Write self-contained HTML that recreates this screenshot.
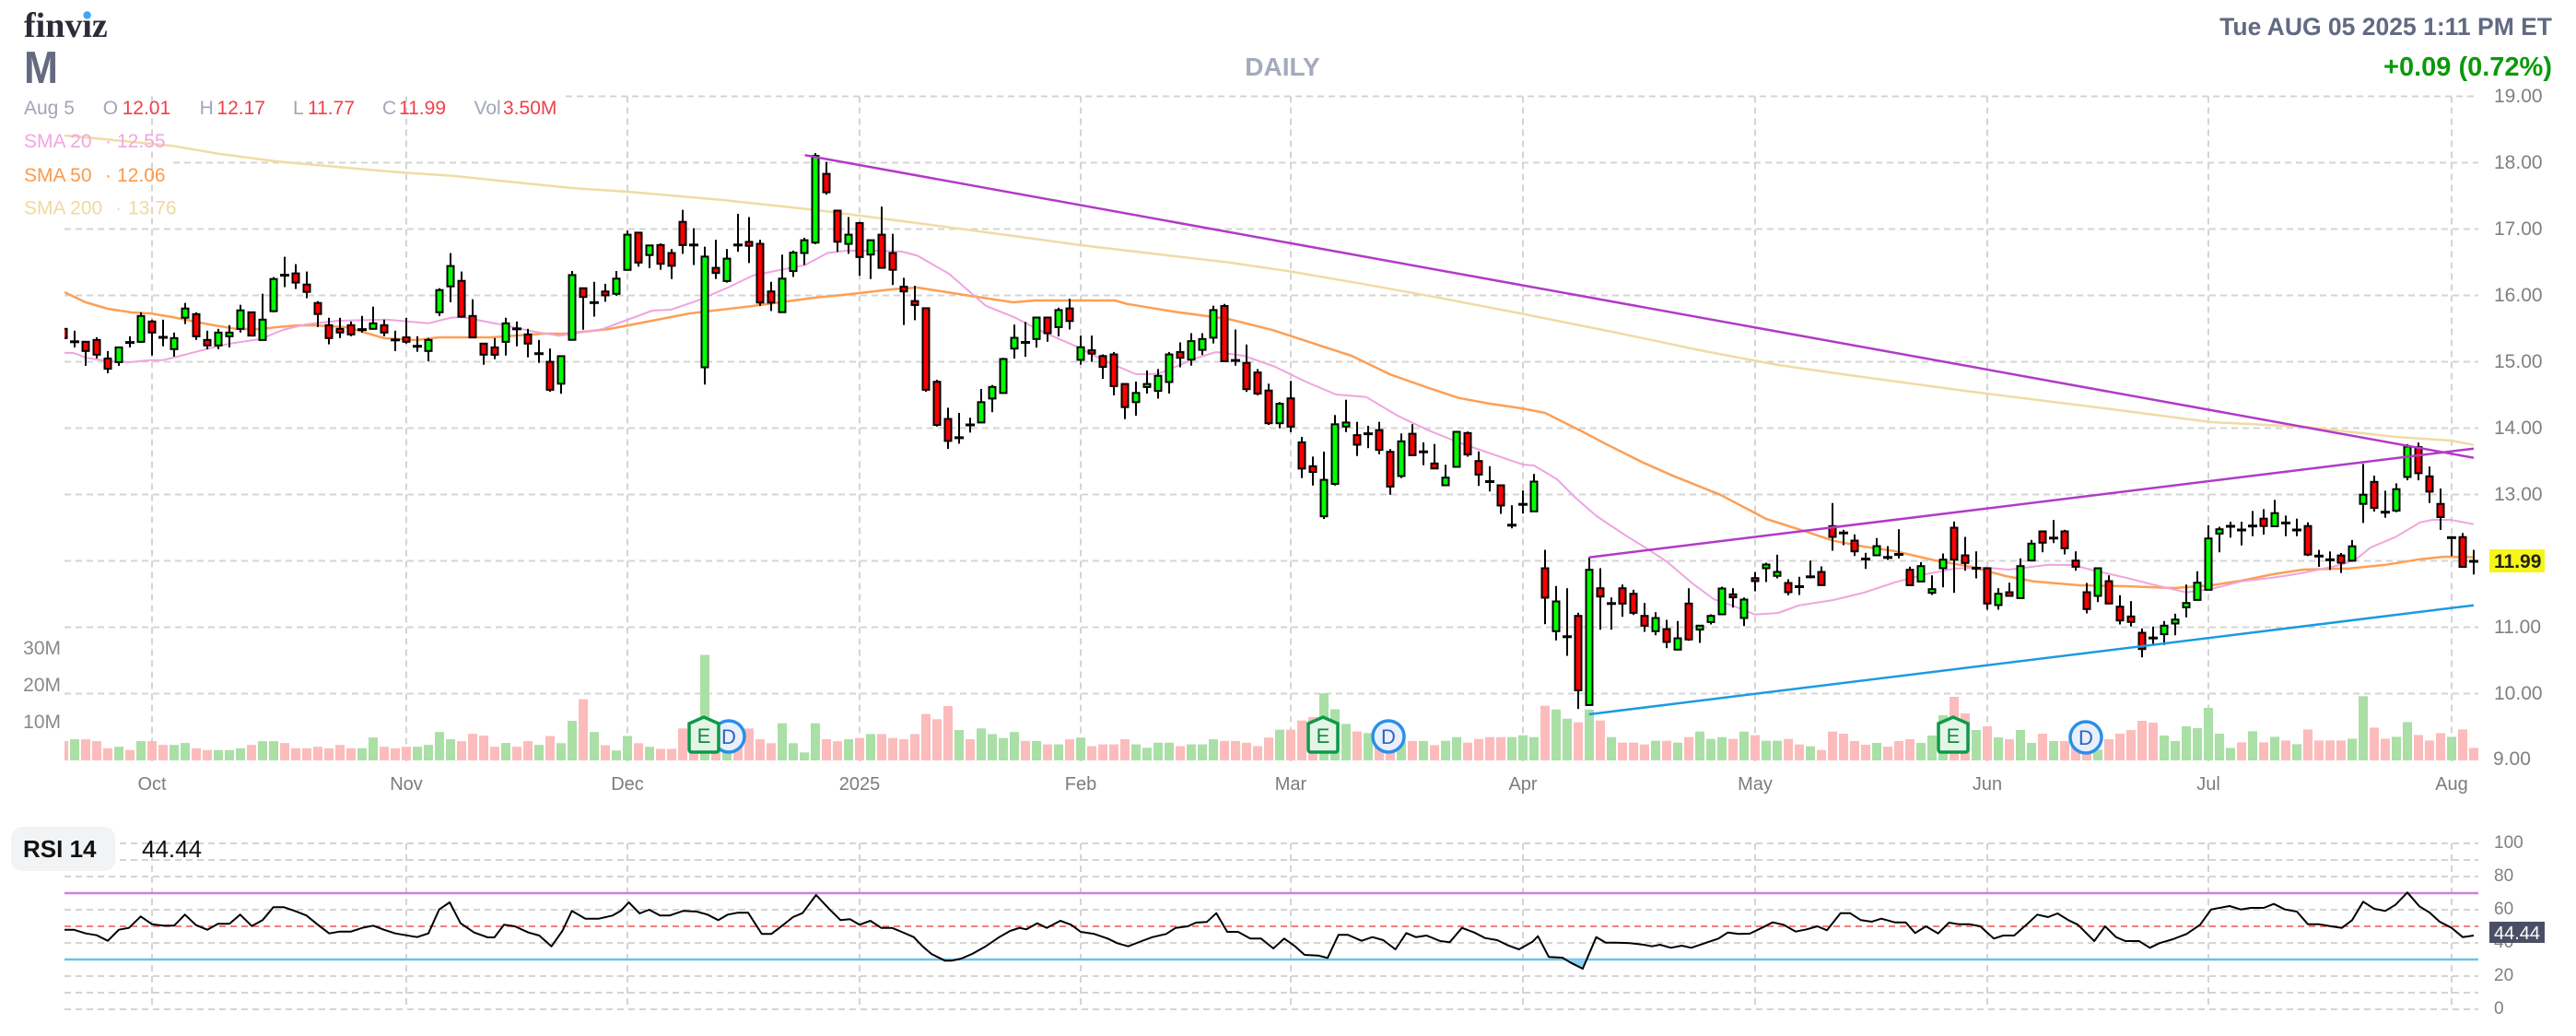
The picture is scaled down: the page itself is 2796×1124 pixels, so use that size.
<!DOCTYPE html>
<html><head><meta charset="utf-8">
<style>
html,body{margin:0;padding:0;background:#fff;}
svg{display:block;}
</style></head>
<body>
<svg id="c" width="2796" height="1124" viewBox="0 0 2796 1124" xmlns="http://www.w3.org/2000/svg" font-family="Liberation Sans, Arial, sans-serif">
<defs>
<clipPath id="pc"><rect x="70" y="90" width="2620" height="740"/></clipPath>
<clipPath id="rc"><rect x="70" y="900" width="2620" height="200"/></clipPath>
</defs>
<rect x="0" y="0" width="2796" height="1124" fill="#fff"/>
<g id="grid"></g>
<g id="vol" clip-path="url(#pc)"></g>
<g id="sma" clip-path="url(#pc)" fill="none"></g>
<g id="cdl" clip-path="url(#pc)"></g>
<g id="trend" clip-path="url(#pc)" fill="none"></g>
<g id="rsi" clip-path="url(#rc)"></g>

<!-- markers -->
<g>
<circle cx="791" cy="799" r="17" fill="#e8f0fb" stroke="#2b8fe8" stroke-width="3.5"/>
<text x="791" y="807" font-size="22" fill="#2f62c2" text-anchor="middle">D</text>
<path d="M748,785 L764,778 L780,785 L780,813 Q780,816 777,816 L751,816 Q748,816 748,813 Z" fill="#e4f5e8" stroke="#0e9a48" stroke-width="3.5"/>
<text x="764" y="806" font-size="22" fill="#0e8a3e" text-anchor="middle">E</text>

<circle cx="1507" cy="799" r="17" fill="#e8f0fb" stroke="#2b8fe8" stroke-width="3.5"/>
<text x="1507" y="807" font-size="22" fill="#2f62c2" text-anchor="middle">D</text>
<path d="M1420,785 L1436,778 L1452,785 L1452,813 Q1452,816 1449,816 L1423,816 Q1420,816 1420,813 Z" fill="#e4f5e8" stroke="#0e9a48" stroke-width="3.5"/>
<text x="1436" y="806" font-size="22" fill="#0e8a3e" text-anchor="middle">E</text>

<circle cx="2264" cy="800" r="17" fill="#e8f0fb" stroke="#2b8fe8" stroke-width="3.5"/>
<text x="2264" y="808" font-size="22" fill="#2f62c2" text-anchor="middle">D</text>
<path d="M2104,785 L2120,778 L2136,785 L2136,813 Q2136,816 2133,816 L2107,816 Q2104,816 2104,813 Z" fill="#e4f5e8" stroke="#0e9a48" stroke-width="3.5"/>
<text x="2120" y="806" font-size="22" fill="#0e8a3e" text-anchor="middle">E</text>
</g>

<!-- header -->
<text x="26" y="40" font-family="Liberation Serif, serif" font-weight="bold" font-size="38" fill="#2b2c38">finviz</text>
<circle cx="94.6" cy="16.5" r="4.2" fill="#41a5f5"/>
<text x="26" y="90" font-weight="bold" font-size="49" fill="#646a80" textLength="37" lengthAdjust="spacingAndGlyphs">M</text>
<text x="1392" y="82" font-weight="bold" font-size="28" fill="#a4aabd" text-anchor="middle">DAILY</text>
<text x="2770" y="38" font-weight="bold" font-size="26.5" fill="#626982" text-anchor="end">Tue AUG 05 2025 1:11 PM ET</text>
<text x="2770" y="82" font-weight="bold" font-size="29" fill="#0b990b" text-anchor="end">+0.09 (0.72%)</text>

<g font-size="21">
<text x="26" y="124" fill="#a1a6b8">Aug 5</text>
<text x="111.7" y="124" fill="#a1a6b8">O</text><text x="132.6" y="124" fill="#f0404a">12.01</text>
<text x="216.6" y="124" fill="#a1a6b8">H</text><text x="235.4" y="124" fill="#f0404a">12.17</text>
<text x="318" y="124" fill="#a1a6b8">L</text><text x="334" y="124" fill="#f0404a">11.77</text>
<text x="415" y="124" fill="#a1a6b8">C</text><text x="433" y="124" fill="#f0404a">11.99</text>
<text x="514.5" y="124" fill="#a1a6b8">Vol</text><text x="546" y="124" fill="#f0404a">3.50M</text>

<text x="26" y="160" fill="#f2a6e0">SMA 20</text><text x="114" y="160" fill="#f2a6e0">·</text><text x="127" y="160" fill="#f2a6e0">12.55</text>
<text x="26" y="197" fill="#fb9a4b">SMA 50</text><text x="114" y="197" fill="#fb9a4b">·</text><text x="127" y="197" fill="#fb9a4b">12.06</text>
<text x="26" y="232.5" fill="#efd9a0">SMA 200</text><text x="125" y="232.5" fill="#efd9a0">·</text><text x="139" y="232.5" fill="#efd9a0">13.76</text>
</g>

<!-- price axis -->
<g font-size="21" fill="#808080">
<text x="2707" y="111">19.00</text>
<text x="2707" y="183">18.00</text>
<text x="2707" y="255">17.00</text>
<text x="2707" y="327">16.00</text>
<text x="2707" y="399">15.00</text>
<text x="2707" y="471">14.00</text>
<text x="2707" y="543">13.00</text>
<text x="2707" y="687">11.00</text>
<text x="2707" y="759">10.00</text>
<text x="2706" y="830">9.00</text>
</g>
<rect x="2702" y="596" width="60" height="25" fill="#f5f518"/>
<text x="2707" y="616" font-size="21" font-weight="bold" fill="#222">11.99</text>

<!-- volume axis -->
<g font-size="21" fill="#8a8a8a" text-anchor="end">
<text x="66" y="710">30M</text>
<text x="66" y="750">20M</text>
<text x="66" y="790">10M</text>
</g>

<!-- month labels -->
<g font-size="20" fill="#7c7c7c" text-anchor="middle">
<text x="165" y="857">Oct</text>
<text x="441" y="857">Nov</text>
<text x="681" y="857">Dec</text>
<text x="933" y="857">2025</text>
<text x="1173" y="857">Feb</text>
<text x="1401" y="857">Mar</text>
<text x="1653" y="857">Apr</text>
<text x="1905" y="857">May</text>
<text x="2157" y="857">Jun</text>
<text x="2397" y="857">Jul</text>
<text x="2661" y="857">Aug</text>
</g>

<!-- RSI labels -->
<rect x="12" y="897" width="113" height="48" rx="12" fill="#f2f3f5"/>
<text x="25" y="930" font-size="26" font-weight="bold" fill="#111">RSI 14</text>
<text x="154" y="930" font-size="26" fill="#111">44.44</text>
<g font-size="19" fill="#808080">
<text x="2707" y="920">100</text>
<text x="2707" y="956">80</text>
<text x="2707" y="992">60</text>
<text x="2707" y="1028">40</text>
<text x="2707" y="1064">20</text>
<text x="2707" y="1100">0</text>
</g>
<rect x="2702" y="1000" width="60" height="23" fill="#4a5064"/>
<text x="2707" y="1019" font-size="20" fill="#fff">44.44</text>
</svg>

<script>
(function(){
var Y=function(p){return 104.5+(19-p)*72;};
var X=function(g){return 69+12*g;};
var segs=[
{g0:0,zy0:120,p0:17,s:179.5,vb:1555,
c:"r 390 415 388 415|d 425 395 440|r 425 450 425 490|r 420 460 413 470|r 470 498 450 510|g 440 480 440 490|d 427 410 440|g 355 425 345 425|r 370 400 365 462|d 413 365 437|g 415 445 400 465|g 335 360 320 377|r 350 410 345 420|r 420 435 395 445|g 400 435 390 445|g 400 410 380 440|g 340 390 325 400|r 345 408 345 410|g 365 420 295 420|g 255 342 250 345|d 245 195 277|r 240 265 215 282|r 270 290 235 307|r 320 350 315 385|r 380 415 360 432|r 390 400 360 415|r 380 405 370 410|d 392 355 400|g 375 390 330 392|r 380 400 365 410|d 420 395 450|r 413 425 360 430|d 437 410 452|g 420 450 415 478|g 285 345 280 355|g 220 275 185 318|r 260 357 235 360|r 355 413 310 413|r 430 460 430 487|r 440 460 415 472|g 375 425 360 462|d 390 370 437|r 405 430 390 467|d 457 420 482",
v:"1503p 1498g 1498p 1503p 1522p 1518g 1527p 1503g 1503p 1513p 1513g 1508g 1522p 1527p 1527g 1527g 1522g 1513p 1503g 1503g 1508p 1522p 1522p 1518p 1522p 1513p 1522p 1522g 1493g 1518p 1522p 1518p 1518g 1513g 1478g 1498g 1503p 1483p 1488p 1518p 1508g 1518p 1503p 1513g"},
{g0:44,zy0:62,p0:18,s:166,vb:1556,
c:"r 560 630 527 635|g 546 615 546 640|g 343 505 333 505|r 376 398 376 480|d 412 360 447|r 384 394 365 410|g 352 390 333 395|g 242 330 232 332|r 237 312 237 322|g 269 293 269 326|r 268 315 264 330|r 288 320 278 353|r 210 268 180 290|d 268 226 318|g 297 574 272 617|r 325 338 255 353|g 302 358 278 362|d 268 190 285|r 260 270 198 313|r 265 412 255 420|r 384 412 360 433|g 352 436 292 436|g 287 333 282 348|g 256 288 250 318|g 45 262 38 266|r 90 136 60 142|r 182 260 182 285|g 242 265 198 290|r 213 298 210 345|g 256 292 256 353|r 242 325 172 325|r 288 330 240 368|r 372 384 350 468|r 408 418 370 456|r 426 630 426 635|r 610 718 605 722|r 703 758 675 778|d 750 688 765|d 718 700 737|g 661 712 628 712|g 623 652 618 686|g 553 638 550 638|g 500 527 467 552",
v:"1495p 1513g 1457g 1403p 1485g 1518p 1531g 1495g 1513p 1522g 1527p 1527p 1476p 1500p 1292g 1500p 1500g 1500p 1476p 1503p 1513p 1463g 1513g 1536g 1463g 1503p 1508p 1503g 1500p 1490g 1490p 1500p 1503p 1490p 1440p 1453p 1420p 1480g 1503p 1476g 1490g 1500g 1485g"},
{g0:87,zy0:192,p0:16,s:194.7,vb:1555,
c:"d 330 270 372|g 257 320 257 345|r 257 303 257 328|g 235 285 228 312|r 230 267 202 292|g 344 381 310 395|r 353 363 310 387|r 370 402 365 437|r 365 458 358 485|r 452 520 452 555|g 478 505 445 545|g 452 461 412 480|g 428 472 408 495|g 365 446 358 480|r 358 375 330 403|g 326 380 303 398|g 320 352 303 367|g 235 316 222 333|r 223 385 217 385|d 383 292 398|r 390 467 336 475|r 418 480 408 485|r 471 567 451 572|g 510 567 505 582|r 494 577 443 593|r 623 700 607 728|r 693 710 665 750|g 733 840 650 848|g 570 745 543 750|g 565 577 498 593|r 602 630 563 663|d 598 575 640|r 587 645 563 658|r 651 753 643 777|g 620 722 597 728|r 598 661 570 661|d 651 623 690|r 685 700 628 700",
v:"1498p 1498g 1508p 1508g 1493p 1488g 1513p 1508p 1508p 1493p 1508g 1518g 1503g 1503g 1513p 1508g 1508g 1493g 1498p 1498p 1503p 1513p 1488p 1465g 1465p 1438p 1428p 1358g 1405g 1448g 1470p 1475g 1490p 1500p 1500g 1498p 1498g 1510p"},
{g0:125,zy0:194,p0:14,s:216,vb:1276,
c:"g 355 380 313 380|g 206 320 206 322|r 210 280 205 287|r 301 345 270 382|d 368 318 400|r 380 446 380 473|d 510 445 520|d 442 397 472|g 368 465 343 465|r 650 746 590 832|g 758 855 708 885|d 873 715 935|r 805 1047 795 1108|g 655 1095 615 1095|r 715 742 650 850|d 765 745 850|r 715 765 703 808|r 733 795 720 802|r 805 837 763 857|g 812 855 793 868|r 848 890 818 910|g 878 915 822 915|r 765 882 715 886|g 837 850 837 893|g 805 825 800 833|g 716 800 710 800|r 735 745 715 778|g 752 812 745 838|r 682 692 662 725|g 638 650 632 695|g 662 675 606 683|r 698 728 686 738|d 710 678 737|d 678 625 683|r 662 705 644 705|r 513 548 438 593",
v:"1212g 1200g 1218p 1206p 1200p 1200p 1200g 1194g 1200g 1098p 1110g 1140g 1152p 1110g 1146p 1200g 1218p 1218p 1224p 1212g 1212p 1218g 1200p 1182g 1206g 1200g 1206p 1182g 1194p 1212g 1212g 1206p 1224p 1230g 1242p 1182p"},
{g0:161,zy0:170,p0:13,s:216,vb:1035,
c:"d 295 285 335|r 320 355 300 370|d 380 360 412|g 338 368 312 368|d 375 338 383|d 365 283 378|r 415 465 405 465|g 403 453 390 453|g 478 490 433 497|g 382 410 362 472|r 278 382 258 490|r 368 393 308 418|d 410 355 443|r 410 525 410 545|g 493 530 475 545|r 488 500 457 500|g 403 507 378 507|g 330 385 318 388|r 290 327 290 358|d 312 253 328|r 290 345 285 365|r 385 405 355 418|r 488 543 458 557|g 410 500 410 520|r 452 525 433 525|r 535 580 498 593|r 567 585 517 600|r 620 673 606 700|d 637 600 657|g 597 625 582 660|g 577 590 558 628|g 523 537 463 570|g 457 513 420 513|g 313 480 270 480|g 283 297 275 358",
v:"948p 972p 984p 978g 990p 972p 966p 978g 954g 888g 828p 882p 936g 924p 960g 966p 936g 978g 948p 972g 972p 990p 990p 1000g 966p 948p 936p 906p 912p 954g 972g 924g 930g 864g 948g"},
{g0:196,zy0:193,p0:14,s:216.3,vb:1277,
c:"d 513 498 550|d 525 498 575|d 512 463 545|r 488 512 457 540|g 470 513 427 513|d 502 478 545|d 525 488 545|r 512 605 500 610|d 610 590 645|d 622 595 655|r 608 632 600 665|g 578 625 558 628|g 410 440 310 502|r 368 453 348 465|d 467 397 485|g 392 462 373 467|g 253 352 245 363|r 255 340 240 363|r 350 400 318 437|r 440 483 390 525|d 550 545 610|r 548 645 535 645|d 627 590 670",
v:"1236g 1218p 1182g 1218p 1200g 1212p 1224g 1176p 1212p 1212p 1212p 1206g 1068g 1170p 1206p 1200g 1152g 1194p 1212p 1188p 1200g 1176p 1236p"}
];
var vh="",ch="";
segs.forEach(function(S){
  var P=function(z){return S.p0-(z-S.zy0)/S.s;};
  var cs=S.c.split("|");
  cs.forEach(function(str,i){
    var a=str.split(" "),g=S.g0+i,x=X(g);
    if(a[0]==="d"){
      var yl=Y(P(+a[1])),yh=Y(P(+a[2])),yw=Y(P(+a[3]));
      ch+='<line x1="'+x+'" y1="'+yh.toFixed(1)+'" x2="'+x+'" y2="'+yw.toFixed(1)+'" stroke="#000" stroke-width="2"/>';
      ch+='<line x1="'+(x-5)+'" y1="'+yl.toFixed(1)+'" x2="'+(x+5)+'" y2="'+yl.toFixed(1)+'" stroke="#000" stroke-width="3"/>';
    }else{
      var yt=Y(P(+a[1])),yb=Y(P(+a[2])),yh2=Y(P(+a[3])),yl2=Y(P(+a[4]));
      var col=a[0]==="g"?"#00ff00":"#ff0000";
      ch+='<line x1="'+x+'" y1="'+yh2.toFixed(1)+'" x2="'+x+'" y2="'+yl2.toFixed(1)+'" stroke="#000" stroke-width="2"/>';
      ch+='<rect x="'+(x-3.5)+'" y="'+yt.toFixed(1)+'" width="7" height="'+Math.max(yb-yt,1).toFixed(1)+'" fill="'+col+'" stroke="#000" stroke-width="2"/>';
    }
  });
  var vs=S.v.trim().split(/\s+/);
  vs.forEach(function(s,i){
    var g=S.g0+i,x=X(g),top=parseFloat(s),c=s.charAt(s.length-1);
    var h=(S.vb-top)*72/S.s;
    vh+='<rect x="'+(x-5)+'" y="'+(825-h).toFixed(1)+'" width="10" height="'+h.toFixed(1)+'" fill="'+(c==="g"?"#aadfa6":"#fcbcbc")+'"/>';
  });
});
document.getElementById("vol").innerHTML=vh;
document.getElementById("cdl").innerHTML=ch;

// grid
var gh="";
var dash='stroke="#d4d4d4" stroke-width="2" stroke-dasharray="7,5"';
for(var k=0;k<10;k++){
  var y=104.5+72*k, x0=70;
  if(k===0)x0=614; if(k===1)x0=188;
  gh+='<line x1="'+x0+'" y1="'+y+'" x2="2690" y2="'+y+'" '+dash+'/>';
}
var months=[165,441,681,933,1173,1401,1653,1905,2157,2397,2661];
months.forEach(function(x){
  gh+='<line x1="'+x+'" y1="104.5" x2="'+x+'" y2="826" '+dash+'/>';
  gh+='<line x1="'+x+'" y1="915" x2="'+x+'" y2="1095" '+dash+'/>';
});
[100,90,80,60,40,20,10,0].forEach(function(r){
  var y=1095-1.8*r;
  gh+='<line x1="70" y1="'+y+'" x2="2690" y2="'+y+'" '+dash+'/>';
});
gh+='<line x1="70" y1="969" x2="2690" y2="969" stroke="#cf80e0" stroke-width="2.5"/>';
gh+='<line x1="70" y1="1005" x2="2690" y2="1005" stroke="#f28080" stroke-width="2" stroke-dasharray="7,5"/>';
gh+='<line x1="70" y1="1041" x2="2690" y2="1041" stroke="#6ec0ea" stroke-width="2.5"/>';
document.getElementById("grid").innerHTML=gh;

function pl(pts,col,w){
  return '<polyline points="'+pts.map(function(p){return p[0]+","+p[1];}).join(" ")+'" stroke="'+col+'" stroke-width="'+w+'" fill="none" stroke-linejoin="round"/>';
}
var s200=[[70,147],[102.7,150],[187.6,158.3],[236.7,166.7],[299,175],[384,182.7],[437.7,187.3],[491,190.7],[549,196.7],[620.8,204],[681,208],[782,216.8],[885,227.7],[1003,243],[1100,256],[1173,266],[1267,277],[1333,284.6],[1401,294.6],[1483,308.7],[1560,322.7],[1650,340],[1750,360],[1850,381],[1930,396],[2000,406],[2140,425],[2300,445],[2400,458],[2500,463],[2600,474],[2660,478],[2685,482.7]];
var s50=[[70,317],[93,328],[117,335],[143,339],[163,340],[187,344],[227,352],[257,357],[283,357],[300,355],[323,353],[343,353],[377,355],[417,367],[452,369],[476,366],[533,366],[590,362],[614,362],[661,357],[749,340],[817,332],[884,323],[918,319.6],[972,313.5],[996,312],[1053,321],[1100,328],[1123,326],[1210,326],[1223,329.7],[1273,338],[1333,346],[1383,358.6],[1433,375],[1467,386],[1510,406.7],[1550,420.7],[1583,431.7],[1617,438],[1650,442.7],[1677,448],[1717,468],[1743,481.7],[1783,501.7],[1817,516.7],[1867,536.7],[1917,563],[1960,576.7],[1990,586.7],[2023,593],[2057,598],[2100,608],[2140,615],[2177,625],[2207,630.7],[2257,635],[2307,636],[2360,638],[2400,635],[2433,630],[2467,623],[2500,618],[2550,616.7],[2590,612.7],[2627,606.7],[2653,604],[2685,604.5]];
var s20=[[70,382.7],[80,383],[93,388],[117,391.7],[140,393],[163,390.7],[177,390.7],[200,385],[227,378],[250,372.7],[283,367.7],[307,358],[333,351.7],[367,348],[420,346.7],[465,350.8],[489,344.8],[502,344],[543,352],[580,359.9],[607,364.3],[654,357],[681,347],[708,337],[728,336],[756,326.6],[790,312],[817,299],[851,292],[874,287.5],[898,274.5],[918,272],[952,272],[979,273],[996,277.5],[1030,297],[1070,331.8],[1100,343.8],[1133,360.5],[1167,375.3],[1200,392],[1233,406],[1257,405.6],[1277,397.5],[1300,388],[1320,382],[1350,386],[1383,397.5],[1417,414],[1450,428],[1483,430.8],[1517,451],[1550,466.7],[1583,480],[1617,491.7],[1653,504],[1665,505],[1690,520],[1710,540],[1733,560],[1763,580],[1790,596.7],[1810,610],[1837,633],[1860,650],[1883,658],[1905,666.7],[1930,665],[1953,656.7],[1990,651],[2023,643],[2057,631.7],[2090,623],[2123,616.7],[2157,616],[2180,618],[2197,616],[2223,612.7],[2250,613],[2273,619],[2307,626.7],[2340,635],[2373,642.7],[2400,639],[2433,630.7],[2467,626.7],[2493,622.7],[2517,618],[2540,613],[2557,607],[2573,594],[2600,582.7],[2627,566.7],[2640,564],[2660,564],[2685,568.7]];
document.getElementById("sma").innerHTML=pl(s200,"#f0dba5",2.5)+pl(s50,"#fd9f55",2.5)+pl(s20,"#f0a4df",2);

var th='';
th+='<line x1="873.5" y1="168.3" x2="2685" y2="496.7" stroke="#b23ac7" stroke-width="2.5"/>';
th+='<line x1="1724.7" y1="604.7" x2="2685" y2="486.7" stroke="#b23ac7" stroke-width="2.5"/>';
th+='<line x1="1724.7" y1="775" x2="2685" y2="656.7" stroke="#1c9be0" stroke-width="2.5"/>';
document.getElementById("trend").innerHTML=th;

// RSI
var r1=[[70,1008.7],[80,1008.7],[93,1012.7],[105,1014.7],[117,1020.7],[129,1008.7],[140,1006.7],[152.7,994.3],[165,1002.7],[176.7,1004.3],[189,1004.3],[200.7,992.3],[212.7,1003.7],[225,1008.7],[236.7,1002.3],[249,1002.3],[260.7,992.3],[273.3,1004.7],[285,998.3],[296.7,984.3],[308.3,984.3],[320,988.3],[332.7,993.3],[345,1003.3],[357.3,1012.7],[369,1010.7],[381,1010.7],[393.3,1006.7],[405,1004.3],[416.7,1008.7],[429,1012.7],[440.7,1014.7],[452.7,1016.7],[465,1012.7],[476.7,986.7]];
var z=[[60,72],[68,140],[78,170],[88,186],[93,186],[100,145],[108,150],[118,170],[126,180],[135,215],[143,165],[150,100],[160,125],[170,125],[180,115],[186,100],[192,72],[200,108],[207,96],[215,115],[222,115],[232,100],[242,102],[250,112],[258,130],[265,112],[272,106],[280,106],[290,175],[297,175],[305,148],[313,120],[320,107],[330,48],[340,95],[348,130],[355,127],[362,145],[370,132],[378,155],[386,155],[393,168],[402,185],[408,213],[415,240],[425,262],[430,262],[437,255],[445,240],[455,215],[465,185],[473,165],[480,155],[485,160],[493,140],[500,155],[510,132],[518,145],[525,168],[535,175],[545,190],[552,205],[560,215],[570,198],[578,185],[588,175],[595,155],[604,150],[610,138],[618,136],[625,107],[633,168],[641,168],[650,190],[658,190],[667,222],[675,190],[683,215],[690,243],[700,245],[707,253],[715,178],[722,178],[732,197],[740,185],[748,195],[757,225],[765,172],[772,185],[780,180],[790,198],[797,202],[806,155],[815,170],[823,188],[832,195],[840,212],[848,225],[858,200],[862,182],[870,250],[880,252],[886,268],[895,288],[905,185],[912,203],[920,203],[930,205],[940,210],[946,215],[952,210],[960,220],[968,213],[975,220],[985,205],[995,190],[1002,170],[1010,175],[1018,174],[1027,155],[1035,137],[1043,145],[1052,167],[1060,160],[1068,150],[1075,163],[1085,107],[1092,107],[1100,130],[1108,135],[1115,125],[1125,137],[1133,137],[1140,172],[1148,150],[1157,173],[1165,138],[1172,143],[1180,143],[1188,150],[1198,190],[1205,180],[1213,180],[1222,145],[1230,112],[1238,120],[1245,108],[1253,130],[1260,145],[1272,198],[1280,150],[1288,185],[1295,198],[1305,198],[1313,220],[1320,205],[1330,192],[1340,175],[1350,145]];
var r2=z.map(function(p){return [(441+(p[0]-28)/0.679).toFixed(1),(955+p[1]/3).toFixed(1)];});
var r3=[[2400,986.7],[2420,983],[2432,986.7],[2443,985],[2457,985],[2468,980.7],[2480,986.7],[2493,989],[2505,1002.7],[2517,1002.7],[2530,1005],[2542,1006.7],[2553,998.3],[2565,978.3],[2577,986],[2589,988.3],[2600,981.7],[2613,968.3],[2626,983.3],[2637,990],[2648,1000],[2661,1006.7],[2673,1016.7],[2685,1015]];
var rh='<polygon points="1700,1041 1705,1044.3 1718,1051 1722,1041" fill="#8fd0f0"/>';
rh+=pl(r1.concat(r2).concat(r3),"#000",2);
document.getElementById("rsi").innerHTML=rh;
})();
</script>
</body></html>
